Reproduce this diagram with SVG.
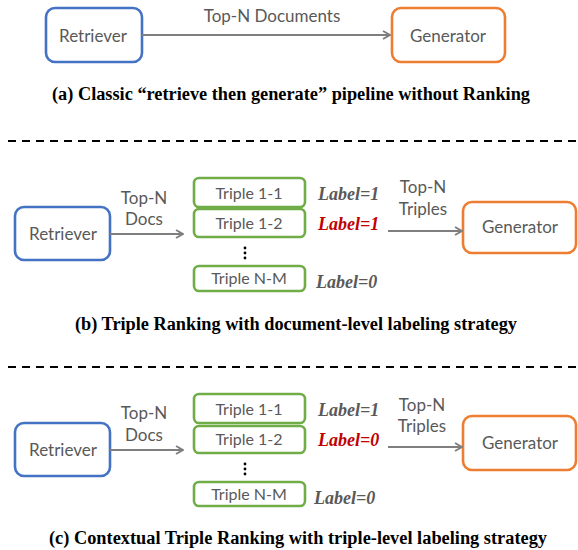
<svg xmlns="http://www.w3.org/2000/svg" width="578" height="550" viewBox="0 0 578 550">
<defs>
<style>
.box{fill:#fff;stroke-width:2.6}
.ret{stroke:#4472C4}
.gen{stroke:#ED7D31}
.tri{stroke:#70AD47}
.t{font-family:Lato,"Liberation Sans",sans-serif;fill:#595959;text-anchor:middle}
.big{font-size:17px}
.sm{font-size:16px}
.lab{font-family:"Liberation Serif",serif;font-weight:bold;font-style:italic;font-size:18px;fill:#595959}
.red{fill:#C00000}
.cap{font-family:"Liberation Serif",serif;font-weight:bold;font-size:18px;fill:#000}
.arr{stroke:#7F7F7F;stroke-width:2;fill:none;marker-end:url(#ah)}
.dash{stroke:#000;stroke-width:1.8;stroke-dasharray:8 6}
.dot{fill:#000}
</style>
<marker id="ah" viewBox="0 0 10 10" refX="9" refY="5" markerWidth="10" markerHeight="10" markerUnits="userSpaceOnUse" orient="auto">
<polyline points="2,1 9,5 2,9" fill="none" stroke="#7F7F7F" stroke-width="2"/>
</marker>
</defs>

<!-- Panel (a) -->
<g id="a-retriever"><rect class="box ret" x="46" y="8" width="96" height="54" rx="9"/><text class="t big" x="93" y="42">Retriever</text></g>
<g id="a-generator"><rect class="box gen" x="392" y="8" width="113" height="54" rx="9"/><text class="t big" x="448" y="42">Generator</text></g>
<g id="a-connectors">
<line class="arr" x1="142" y1="35" x2="390" y2="35"/>
<text class="t big" x="272" y="22">Top-N Documents</text>
</g>
<text class="cap" x="52" y="100" textLength="478" lengthAdjust="spacingAndGlyphs">(a) Classic “retrieve then generate” pipeline without Ranking</text>
<line class="dash" x1="8" y1="141" x2="578" y2="141"/>

<!-- Panel (b) -->
<g id="b-retriever"><rect class="box ret" x="15" y="207" width="95" height="53" rx="9"/><text class="t big" x="63" y="240">Retriever</text></g>
<g id="b-triple-1-1"><rect class="box tri" x="194" y="178" width="111" height="29" rx="5"/><text class="t sm" x="249" y="199">Triple 1-1</text></g>
<g id="b-triple-1-2"><rect class="box tri" x="194" y="209" width="111" height="28" rx="5"/><text class="t sm" x="249" y="229">Triple 1-2</text></g>
<g id="b-dots"><circle class="dot" cx="245" cy="248" r="1.4"/><circle class="dot" cx="245" cy="253" r="1.4"/><circle class="dot" cx="245" cy="258" r="1.4"/></g>
<g id="b-triple-n-m"><rect class="box tri" x="194" y="266" width="111" height="25" rx="5"/><text class="t sm" x="249" y="284">Triple N-M</text></g>
<g id="b-generator"><rect class="box gen" x="463" y="202" width="113" height="51" rx="9"/><text class="t big" x="520" y="233">Generator</text></g>
<text class="lab" x="318" y="200">Label=1</text>
<text class="lab red" x="318" y="230">Label=1</text>
<text class="lab" x="316" y="288">Label=0</text>
<g id="b-connectors">
<line class="arr" x1="110" y1="234" x2="183" y2="234"/>
<line class="arr" x1="388" y1="231" x2="462" y2="231"/>
<text class="t big" x="144" y="204">Top-N</text>
<text class="t big" x="144" y="225">Docs</text>
<text class="t big" x="423" y="193">Top-N</text>
<text class="t big" x="423" y="215">Triples</text>
</g>
<text class="cap" x="75" y="330" textLength="442" lengthAdjust="spacingAndGlyphs">(b) Triple Ranking with document-level labeling strategy</text>
<line class="dash" x1="8" y1="367" x2="578" y2="367"/>

<!-- Panel (c) -->
<g id="c-retriever"><rect class="box ret" x="15" y="423" width="95" height="53" rx="9"/><text class="t big" x="63" y="456">Retriever</text></g>
<g id="c-triple-1-1"><rect class="box tri" x="194" y="394" width="111" height="29" rx="5"/><text class="t sm" x="249" y="415">Triple 1-1</text></g>
<g id="c-triple-1-2"><rect class="box tri" x="194" y="426" width="111" height="27" rx="5"/><text class="t sm" x="249" y="445">Triple 1-2</text></g>
<g id="c-dots"><circle class="dot" cx="245" cy="464" r="1.4"/><circle class="dot" cx="245" cy="469" r="1.4"/><circle class="dot" cx="245" cy="474" r="1.4"/></g>
<g id="c-triple-n-m"><rect class="box tri" x="194" y="482" width="111" height="24" rx="5"/><text class="t sm" x="249" y="500">Triple N-M</text></g>
<g id="c-generator"><rect class="box gen" x="463" y="416" width="113" height="54" rx="9"/><text class="t big" x="520" y="449">Generator</text></g>
<text class="lab" x="318" y="416">Label=1</text>
<text class="lab red" x="318" y="446">Label=0</text>
<text class="lab" x="314" y="504">Label=0</text>
<g id="c-connectors">
<line class="arr" x1="110" y1="450" x2="183" y2="450"/>
<line class="arr" x1="388" y1="447" x2="462" y2="447"/>
<text class="t big" x="144" y="419">Top-N</text>
<text class="t big" x="144" y="441">Docs</text>
<text class="t big" x="422" y="411">Top-N</text>
<text class="t big" x="422" y="432">Triples</text>
</g>
<text class="cap" x="49" y="544" textLength="498" lengthAdjust="spacingAndGlyphs">(c) Contextual Triple Ranking with triple-level labeling strategy</text>
</svg>
